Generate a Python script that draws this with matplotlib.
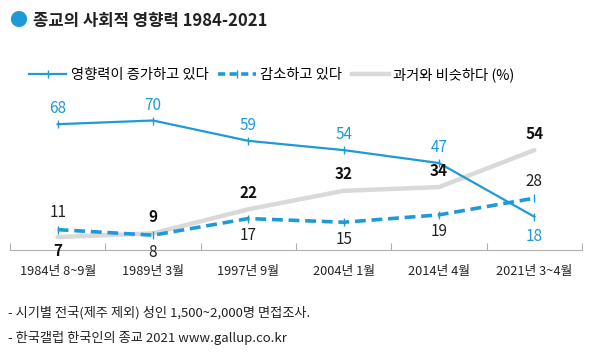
import matplotlib
matplotlib.use("Agg")
import matplotlib.pyplot as plt
from matplotlib.lines import Line2D

plt.rcParams['font.family'] = ['Noto Sans CJK KR', 'DejaVu Sans']

categories = ["1984년 8~9월", "1989년 3월", "1997년 9월", "2004년 1월", "2014년 4월", "2021년 3~4월"]
increase = [68, 70, 59, 54, 47, 18]
decrease = [11, 8, 17, 15, 19, 28]
similar = [7, 9, 22, 32, 34, 54]
series_names = ["영향력이 증가하고 있다", "감소하고 있다", "과거와 비슷하다 (%)"]

BLUE = "#1f9ad8"
GRAY = "#d9d9d9"

fig = plt.figure(figsize=(6, 3.61), dpi=100)
ax = fig.add_axes([10/600, 111/361, 572/600, 148/361])
x = list(range(len(categories)))

ax.plot(x, similar, color=GRAY, lw=3.2, solid_capstyle='round', zorder=1)
ax.plot(x, decrease, color=BLUE, lw=2.6, ls=(0, (3, 1.6)), marker='|', ms=5.5, mew=1, zorder=2)
ax.plot(x, increase, color=BLUE, lw=1.6, marker='|', ms=5.5, mew=1, zorder=3)

ax.set_xlim(-0.5, len(categories) - 0.5)
ax.set_ylim(0, 80)

for i, v in enumerate(increase):
    ax.annotate(str(v), (i, v), xytext=(0, 5 if i < 5 else -8), textcoords='offset points',
                ha='center', va='bottom' if i < 5 else 'top', color=BLUE, fontsize=11)
dec_off = [1, -1, -1, -1, -1, 1]
for i, v in enumerate(decrease):
    up = dec_off[i] > 0
    ax.annotate(str(v), (i, v), xytext=(0, 6 if up else -6), textcoords='offset points',
                ha='center', va='bottom' if up else 'top', color='#222222', fontsize=11)
for i, v in enumerate(similar):
    up = i > 0
    ax.annotate(str(v), (i, v), xytext=(0, 6 if up else -4), textcoords='offset points',
                ha='center', va='bottom' if up else 'top', color='#111111', fontsize=11,
                fontweight='bold')

for s in ['top', 'right', 'left']:
    ax.spines[s].set_visible(False)
ax.spines['bottom'].set_color('#b0b0b0')
ax.set_yticks([])
ax.set_xticks([i - 0.5 for i in range(len(categories) + 1)], minor=False)
ax.set_xticklabels([])
ax.tick_params(axis='x', direction='in', length=5, color='#b0b0b0')
for i, c in enumerate(categories):
    ax.text(i, -8, c, ha='center', va='top', fontsize=9.2, color='#222222')

# title
fig.text(18/600, 1 - 21/361, "●", color=BLUE, fontsize=13, va='center', ha='center')
fig.text(33/600, 1 - 21/361, "종교의 사회적 영향력 1984-2021", fontsize=12, fontweight='bold',
         va='center', ha='left', color='#222222')

# legend
handles = [
    Line2D([], [], color=BLUE, lw=1.6, marker='|', ms=5.5),
    Line2D([], [], color=BLUE, lw=2.6, ls=(0, (2, 1.2)), marker='|', ms=5.5),
    Line2D([], [], color=GRAY, lw=3.2),
]
fig.legend(handles, series_names, loc='center', bbox_to_anchor=(272/600, 1 - 75/361), ncol=3,
           frameon=False, fontsize=10.3, handlelength=2.6, columnspacing=0.7, handletextpad=0.3)

fig.text(8/600, 1 - 313/361, "- 시기별 전국(제주 제외) 성인 1,500~2,000명 면접조사.", fontsize=9.5,
         va='center', ha='left', color='#222222')
fig.text(8/600, 1 - 338/361, "- 한국갤럽 한국인의 종교 2021 www.gallup.co.kr", fontsize=9.5,
         va='center', ha='left', color='#222222')

fig.savefig("out.png", dpi=100)
